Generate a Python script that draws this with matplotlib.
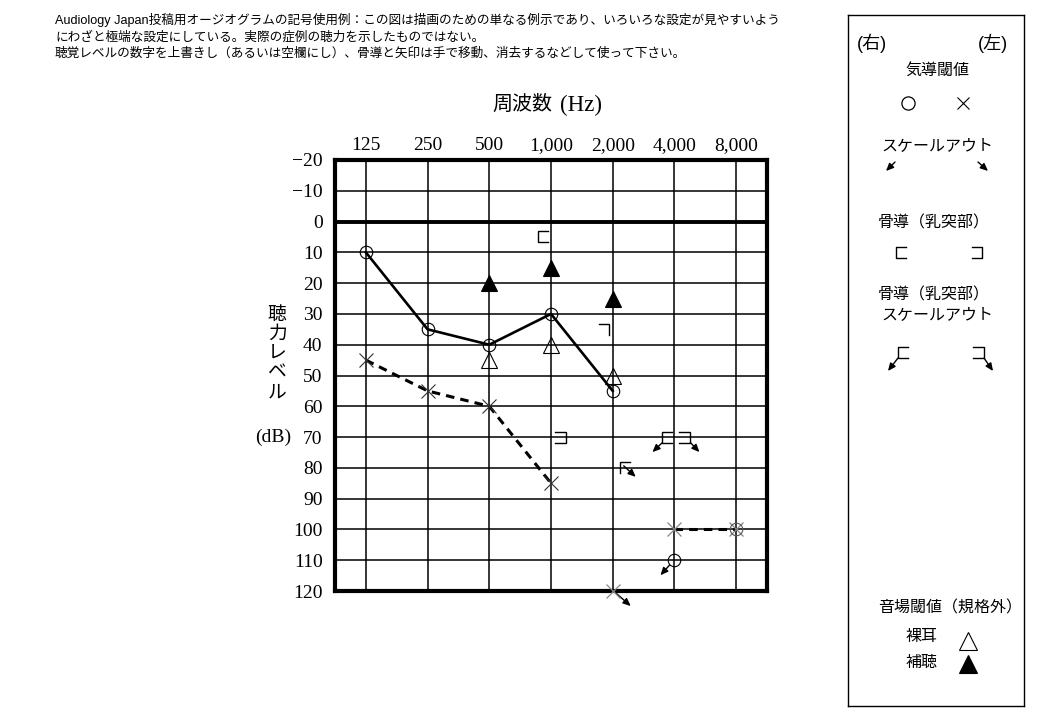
import numpy as np
import matplotlib
matplotlib.use('Agg')
import matplotlib.pyplot as plt
from matplotlib.lines import Line2D
from matplotlib.transforms import IdentityTransform
from matplotlib.ticker import NullLocator

# ---------------- data ----------------
freqs = [125, 250, 500, 1000, 2000, 4000, 8000]
freq_labels = ['125', '250', '500', '1,000', '2,000', '4,000', '8,000']
db_ticks = list(range(-20, 121, 10))

right_air_freqs = [125, 250, 500, 1000, 2000]
right_air_db = [10, 35, 40, 30, 55]
right_air_extra_freqs = [8000]
right_air_extra_db = [100]
right_air_scaleout_freqs = [4000]
right_air_scaleout_db = [110]

left_air_freqs = [125, 250, 500, 1000]
left_air_db = [45, 55, 60, 85]
left_air_hi_freqs = [4000, 8000]
left_air_hi_db = [100, 100]
left_air_scaleout_freqs = [2000]
left_air_scaleout_db = [120]

unaided_freqs = [500, 1000, 2000]
unaided_db = [45, 40, 50]
aided_freqs = [500, 1000, 2000]
aided_db = [20, 15, 25]

right_bone_freqs = [1000]
right_bone_db = [5]
left_bone_freqs = [1000]
left_bone_db = [70]
left_bone_partial_freqs = [2000]
left_bone_partial_db = [35]
right_bone_scaleout_freqs = [4000]
right_bone_scaleout_db = [70]
left_bone_scaleout_freqs = [4000]
left_bone_scaleout_db = [70]
corner_bone_scaleout_freqs = [2000]
corner_bone_scaleout_db = [80]

header_lines = [
    'Audiology Japan投稿用オージオグラムの記号使用例：この図は描画のための単なる例示であり、いろいろな設定が見やすいよう',
    'にわざと極端な設定にしている。実際の症例の聴力を示したものではない。',
    '聴覚レベルの数字を上書きし（あるいは空欄にし）、骨導と矢印は手で移動、消去するなどして使って下さい。',
]
ylabel_text = '聴力レベル'

# ---------------- figure ----------------
plt.rcParams['font.family'] = ['Liberation Sans', 'Noto Sans CJK JP']
SERIF = ['Liberation Serif', 'Noto Sans CJK JP']
CJK = ['Noto Sans CJK JP', 'Liberation Sans']
W, H = 1040, 720
fig = plt.figure(figsize=(W / 100, H / 100), dpi=100)


def px_rect(x0, y0, x1, y1):
    return [x0 / W, 1 - y1 / H, (x1 - x0) / W, (y1 - y0) / H]


ax = fig.add_axes(px_rect(335, 160, 767, 591))
ax.set_xscale('log', base=2)
ax.set_xlim(125 / np.sqrt(2), 8000 * np.sqrt(2))
ax.set_ylim(120, -20)
ax.set_xticks(freqs)
ax.set_xticklabels(freq_labels)
ax.xaxis.set_minor_locator(NullLocator())
ax.xaxis.tick_top()
ax.set_yticks(db_ticks)
ax.set_yticklabels([('\u2212' + str(-v)) if v < 0 else str(v) for v in db_ticks])
ax.tick_params(axis='both', length=0, labelsize=14)
ax.tick_params(axis='x', pad=4)
ax.tick_params(axis='y', pad=9)
for lab in ax.get_xticklabels() + ax.get_yticklabels():
    lab.set_family(SERIF)
ax.grid(True, which='major', color='black', lw=1.1)
ax.axhline(0, color='black', lw=2.8, zorder=2)
for s in ax.spines.values():
    s.set_linewidth(3)

# air conduction
ax.plot(right_air_freqs, right_air_db, color='black', lw=1.9, marker='o', ms=9,
        mfc='none', mec='black', mew=0.8, zorder=4)
ax.plot(right_air_extra_freqs, right_air_extra_db, ls='none', marker='o', ms=9,
        mfc='none', mec='#555555', mew=0.8, zorder=5)
ax.plot(right_air_scaleout_freqs, right_air_scaleout_db, ls='none', marker='o', ms=9,
        mfc='none', mec='black', mew=0.8, zorder=5)
ax.plot(left_air_freqs, left_air_db, color='black', lw=2.2, ls=(0, (2.8, 2.0)),
        marker='x', ms=10, mec='#333333', mew=0.8, zorder=4)
ax.plot(left_air_hi_freqs, left_air_hi_db, color='black', lw=2.2, ls=(0, (2.8, 2.0)),
        marker='x', ms=10, mec='#888888', mew=0.9, zorder=4)
ax.plot(left_air_scaleout_freqs, left_air_scaleout_db, ls='none', marker='x', ms=10,
        mec='#888888', mew=0.9, zorder=5, clip_on=False)

# sound field
ax.plot(unaided_freqs, unaided_db, ls='none', marker='^', ms=12, mfc='none',
        mec='black', mew=0.8, zorder=5)
ax.plot(aided_freqs, aided_db, ls='none', marker='^', ms=12, mfc='black',
        mec='black', mew=0.8, zorder=5)


def to_px(f, db):
    return ax.transData.transform((f, db))


def poly(f, db, offs):
    x0, y0 = to_px(f, db)
    xs = [x0 + dx for dx, dy in offs]
    ys = [y0 - dy for dx, dy in offs]
    fig.add_artist(Line2D(xs, ys, transform=IdentityTransform(), color='black',
                          lw=1.0, solid_joinstyle='miter'))


def arrow(f, db, start, end):
    x0, y0 = to_px(f, db)
    ax.annotate('', xy=(x0 + end[0], y0 - end[1]), xycoords='figure pixels',
                xytext=(x0 + start[0], y0 - start[1]), textcoords='figure pixels',
                arrowprops=dict(arrowstyle='-|>,head_length=0.45,head_width=0.2',
                                color='black', lw=1.0, shrinkA=0, shrinkB=0),
                annotation_clip=False)


BR_L = [(-3, -5.5), (-13, -5.5), (-13, 5.5), (-3, 5.5)]      # ⊏ left of line
BR_R = [(4, -5.5), (15, -5.5), (15, 5.5), (4, 5.5)]          # ⊐ right of line

for f, d in zip(right_bone_freqs, right_bone_db):
    poly(f, d, BR_L)
for f, d in zip(left_bone_freqs, left_bone_db):
    poly(f, d, BR_R)
for f, d in zip(left_bone_partial_freqs, left_bone_partial_db):
    poly(f, d, [(-14, -5.5), (-4, -5.5), (-4, 5.5)])
for f, d in zip(right_bone_scaleout_freqs, right_bone_scaleout_db):
    poly(f, d, [(-2, -5.5), (-12, -5.5), (-12, 5.5), (-2, 5.5)])
    arrow(f, d, (-12, 5.5), (-22, 15))
for f, d in zip(left_bone_scaleout_freqs, left_bone_scaleout_db):
    poly(f, d, [(5, -5.5), (16, -5.5), (16, 5.5), (5, 5.5)])
    arrow(f, d, (16, 5.5), (25, 15))
for f, d in zip(corner_bone_scaleout_freqs, corner_bone_scaleout_db):
    poly(f, d, [(17, -6), (7, -6), (7, 5)])
    arrow(f, d, (11, -2), (23, 9))
for f, d in zip(right_air_scaleout_freqs, right_air_scaleout_db):
    arrow(f, d, (-5, 5), (-14, 15))
for f, d in zip(left_air_scaleout_freqs, left_air_scaleout_db):
    arrow(f, d, (2, 1), (18, 15))

# ---------------- texts ----------------
for i, line in enumerate(header_lines):
    fig.text(55 / W, 1 - (20 + 17 * i) / H, line, fontsize=9.1, va='center', ha='left')

fig.text(552 / W, 1 - 104 / H, '周波数', family=CJK, fontsize=14.4, ha='right', va='center')
fig.text(560 / W, 1 - 105 / H, '(Hz)', family=SERIF, fontsize=16.5, ha='left', va='center')

fig.text(277 / W, 1 - 353 / H, '\n'.join(ylabel_text), family=CJK, fontsize=13.5,
         ha='center', va='center', linespacing=0.9, multialignment='center')
fig.text(273 / W, 1 - 437 / H, '(dB)', family=SERIF, fontsize=14, ha='center', va='center')

# ---------------- legend panel ----------------
lax = fig.add_axes(px_rect(848, 15, 1024, 706))
lax.set_xlim(848, 1024)
lax.set_ylim(706, 15)
lax.set_xticks([])
lax.set_yticks([])
for s in lax.spines.values():
    s.set_linewidth(1.0)

LFS = 11.5
lax.text(872, 43, '(右)', fontsize=13, ha='center', va='center')
lax.text(993, 43, '(左)', fontsize=13, ha='center', va='center')
lax.text(937, 70, '気導閾値', fontsize=LFS, ha='center', va='center')
lax.plot([908], [103], marker='o', ms=9.5, mfc='none', mec='black', mew=0.9)
lax.plot([963], [103], marker='x', ms=9, mec='black', mew=0.8)
lax.text(937, 147, 'スケールアウト', fontsize=LFS, ha='center', va='center')


def larrow(x0, y0, x1, y1):
    lax.annotate('', xy=(x1, y1), xytext=(x0, y0),
                 arrowprops=dict(arrowstyle='-|>,head_length=0.45,head_width=0.2',
                                 color='black', lw=1.0, shrinkA=0, shrinkB=0))


larrow(895, 162, 886, 171)
larrow(978, 162, 988, 171)
lax.text(934, 223, '骨導（乳突部）', fontsize=LFS, ha='center', va='center')
lax.plot([906, 896, 896, 906], [247, 247, 258, 258], color='black', lw=1.0)
lax.plot([972, 982, 982, 972], [247, 247, 258, 258], color='black', lw=1.0)
lax.text(934, 295, '骨導（乳突部）', fontsize=LFS, ha='center', va='center')
lax.text(937, 316, 'スケールアウト', fontsize=LFS, ha='center', va='center')
lax.plot([908, 898, 898, 908], [347, 347, 358, 358], color='black', lw=1.0)
larrow(898, 358, 888, 371)
lax.plot([973, 984, 984, 973], [347, 347, 358, 358], color='black', lw=1.0)
larrow(984, 358, 993, 371)

lax.text(950, 608, '音場閾値（規格外）', fontsize=LFS, ha='center', va='center')
lax.text(922, 637, '裸耳', fontsize=LFS, ha='center', va='center')
lax.text(922, 662, '補聴', fontsize=LFS, ha='center', va='center')
lax.plot([968], [641], marker='^', ms=13, mfc='none', mec='black', mew=0.8)
lax.plot([968], [664], marker='^', ms=13, mfc='black', mec='black', mew=0.8)

fig.savefig('out.png', dpi=100)
